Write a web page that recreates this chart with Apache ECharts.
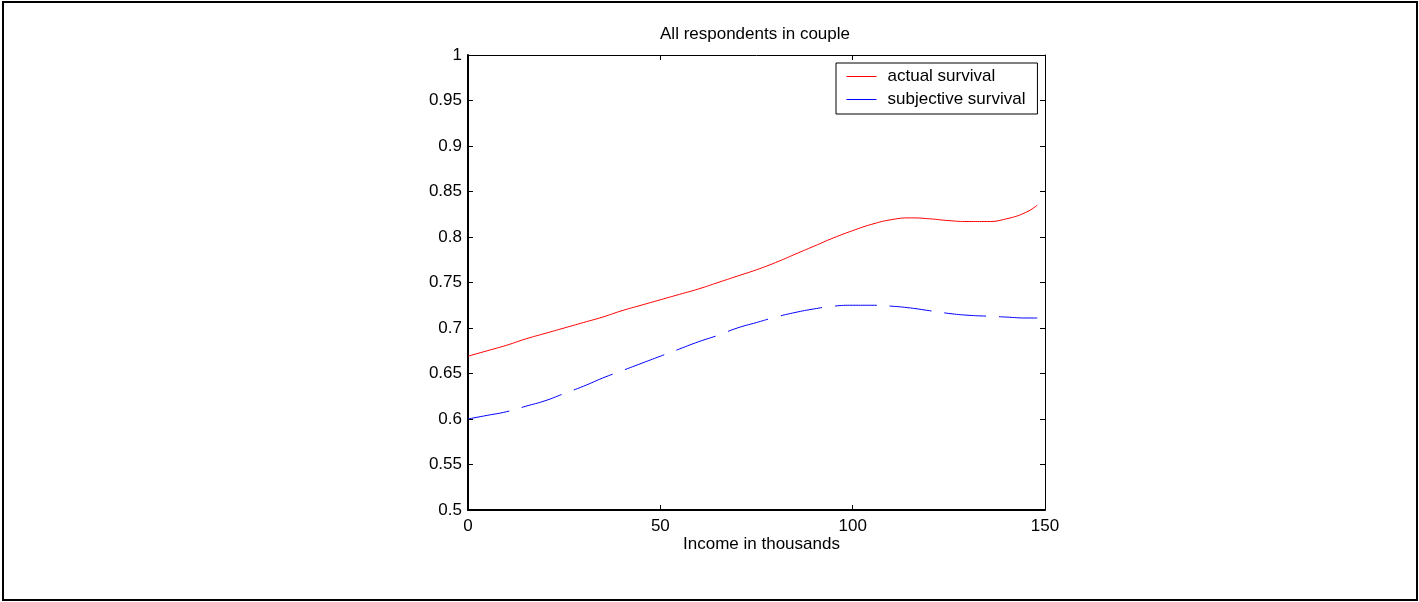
<!DOCTYPE html>
<html>
<head>
<meta charset="utf-8">
<script src="https://cdn.jsdelivr.net/npm/echarts@6/dist/echarts.min.js"></script>
<style>
html,body{margin:0;padding:0;background:#fff;}
#chart{width:1419px;height:602px;}
</style>
</head>
<body>
<div id="chart"></div>
<script>
const titleText = "All respondents in couple";
const xLabel = "Income in thousands";
const seriesNames = ["actual survival", "subjective survival"];
const seriesColors = ["#ff0000", "#0000ff"];
const income = [0, 5, 10, 15, 20, 25, 30, 35, 40, 45, 50, 55, 60, 65, 70, 75, 80, 85, 90, 95, 100, 105, 110, 115, 120, 125, 130, 135, 140, 145, 148];
const actualSurvival = [0.669, 0.675, 0.681, 0.688, 0.694, 0.700, 0.706, 0.712, 0.719, 0.725, 0.731, 0.737, 0.743, 0.750, 0.757, 0.764, 0.772, 0.781, 0.790, 0.799, 0.807, 0.814, 0.819, 0.821, 0.820, 0.818, 0.817, 0.817, 0.820, 0.827, 0.835];
const subjectiveSurvival = [0.600, 0.604, 0.608, 0.614, 0.620, 0.628, 0.636, 0.645, 0.653, 0.661, 0.669, 0.677, 0.685, 0.692, 0.700, 0.706, 0.712, 0.717, 0.721, 0.724, 0.725, 0.725, 0.724, 0.722, 0.719, 0.716, 0.714, 0.713, 0.712, 0.711, 0.711];

const FONT = "'Liberation Sans', Arial, sans-serif";
const chart = echarts.init(document.getElementById('chart'), null, {renderer: 'canvas'});
const yFmt = v => parseFloat(v.toFixed(2)).toString();

const gridBox = {left: 468, top: 55, right: 374, bottom: 92};
const option = {
  animation: false,
  backgroundColor: '#fff',
  title: {
    text: titleText, left: 750, top: 21, textAlign: 'center',
    textStyle: {fontFamily: FONT, fontSize: 17, fontWeight: 'normal', color: '#000'}
  },
  grid: gridBox,
  legend: {
    orient: 'vertical', left: 836, top: 63,
    padding: [5, 12, 6, 10], itemGap: 6, itemWidth: 30, itemHeight: 14,
    borderColor: '#000', borderWidth: 1, backgroundColor: '#fff',
    itemStyle: {color: 'rgba(0,0,0,0)', borderColor: 'rgba(0,0,0,0)', borderWidth: 0},
    lineStyle: {type: 'solid', width: 1},
    textStyle: {fontFamily: FONT, fontSize: 17, color: '#000', padding: [0, 0, 0, 6]},
    data: seriesNames
  },
  xAxis: [{
    type: 'value', min: 0, max: 150, interval: 50,
    name: xLabel, nameLocation: 'middle', nameGap: 26, nameMoveOverlap: false,
    nameTextStyle: {fontFamily: FONT, fontSize: 17, color: '#000', padding: [0, 0, 0, 10]},
    axisLine: {show: true, onZero: false, lineStyle: {color: '#000', width: 2}},
    axisTick: {show: true, inside: true, length: 5, lineStyle: {color: '#000'}},
    axisLabel: {fontFamily: FONT, fontSize: 17, color: '#000', margin: 8},
    splitLine: {show: false}
  }, {
    type: 'value', min: 0, max: 150, interval: 50, position: 'top',
    axisLine: {show: true, onZero: false, lineStyle: {color: '#000', width: 1}},
    axisTick: {show: true, inside: true, length: 5, lineStyle: {color: '#000'}},
    axisLabel: {show: false}, splitLine: {show: false}
  }],
  yAxis: [{
    type: 'value', min: 0.5, max: 1, interval: 0.05,
    axisLine: {show: true, onZero: false, lineStyle: {color: '#000', width: 2}},
    axisTick: {show: true, inside: true, length: 5, lineStyle: {color: '#000'}},
    axisLabel: {fontFamily: FONT, fontSize: 17, color: '#000', margin: 6, formatter: yFmt},
    splitLine: {show: false}
  }, {
    type: 'value', min: 0.5, max: 1, interval: 0.05, position: 'right',
    axisLine: {show: true, onZero: false, lineStyle: {color: '#000', width: 1}},
    axisTick: {show: true, inside: true, length: 5, lineStyle: {color: '#000'}},
    axisLabel: {show: false}, splitLine: {show: false}
  }],
  series: [{
    name: seriesNames[0], type: 'line', symbol: 'none', smooth: true,
    xAxisIndex: 0, yAxisIndex: 0,
    color: seriesColors[0],
    lineStyle: {color: seriesColors[0], width: 1},
    data: income.map((x, i) => [x, actualSurvival[i]])
  }, {
    name: seriesNames[1], type: 'line', symbol: 'none', smooth: true,
    xAxisIndex: 0, yAxisIndex: 0,
    color: seriesColors[1],
    lineStyle: {color: seriesColors[1], width: 1, type: [42, 13]},
    data: income.map((x, i) => [x, subjectiveSurvival[i]])
  }],
  graphic: [{
    type: 'rect', silent: true,
    shape: {x: 3, y: 2, width: 1414, height: 598},
    style: {fill: 'none', stroke: '#000', lineWidth: 2}
  }]
};
chart.setOption(option);
</script>
</body>
</html>
